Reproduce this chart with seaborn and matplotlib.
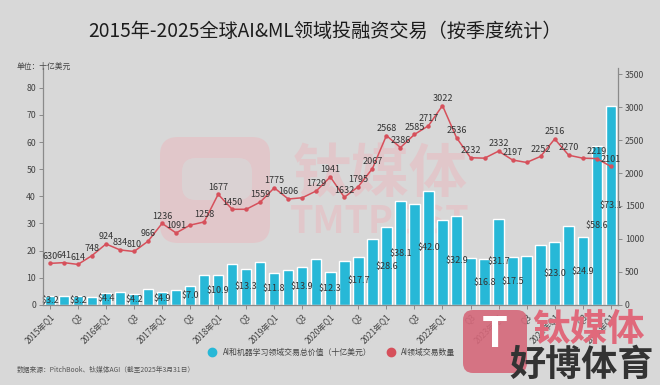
import numpy as np
import pandas as pd
import matplotlib
matplotlib.use("Agg")
import matplotlib.pyplot as plt
import seaborn as sns
from matplotlib.lines import Line2D
from matplotlib.patches import FancyBboxPatch

# ---------------- data ----------------
quarters = ["2015Q1", "2015Q2", "2015Q3", "2015Q4", "2016Q1", "2016Q2", "2016Q3", "2016Q4",
            "2017Q1", "2017Q2", "2017Q3", "2017Q4", "2018Q1", "2018Q2", "2018Q3", "2018Q4",
            "2019Q1", "2019Q2", "2019Q3", "2019Q4", "2020Q1", "2020Q2", "2020Q3", "2020Q4",
            "2021Q1", "2021Q2", "2021Q3", "2021Q4", "2022Q1", "2022Q2", "2022Q3", "2022Q4",
            "2023Q1", "2023Q2", "2023Q3", "2023Q4", "2024Q1", "2024Q2", "2024Q3", "2024Q4",
            "2025Q1"]
deal_value = [3.2, 3.3, 3.2, 3.1, 4.4, 4.8, 4.2, 5.8, 4.9, 5.5,
              7.0, 11.0, 10.9, 15.0, 13.3, 15.7, 11.8, 12.8, 13.9, 17.0,
              12.3, 16.0, 17.7, 24.3, 28.6, 38.1, 37.1, 42.0, 31.2, 32.9,
              17.2, 16.8, 31.7, 17.5, 17.9, 22.1, 23.0, 29.0, 24.9, 58.6,
              73.1]
deal_count = [630, 641, 614, 748, 924, 834, 810, 966, 1236, 1091,
              1210, 1258, 1677, 1450, 1450, 1559, 1775, 1606, 1625, 1729,
              1941, 1632, 1795, 2067, 2568, 2386, 2585, 2717, 3022, 2536,
              2232, 2225, 2332, 2197, 2160, 2252, 2516, 2270, 2225, 2219,
              2101]
value_label_idx = [0, 2, 4, 6, 8, 10, 12, 14, 16, 18, 20, 22, 24, 25, 27, 29,
                   31, 32, 33, 36, 38, 39, 40]
count_unlabeled_idx = [10, 14, 18, 31, 34, 38]
tick_labels = ["2015年Q1", "Q3", "2016年Q1", "Q3", "2017年Q1", "Q3", "2018年Q1", "Q3",
               "2019年Q1", "Q3", "2020年Q1", "Q3", "2021年Q1", "Q3", "2022年Q1", "Q3",
               "2023年Q1", "Q3", "2024年Q1", "Q3", "2025年Q1"]
left_ticks = [0, 10, 20, 30, 40, 50, 60, 70, 80]
right_ticks = [0, 500, 1000, 1500, 2000, 2500, 3000, 3500]

title = "2015年-2025全球AI&ML领域投融资交易（按季度统计）"
unit_text = "单位：十亿美元"
source_text = "数据来源：PitchBook、钛媒体AGI（截至2025年3月31日）"
legend_labels = ["AI和机器学习领域交易总价值（十亿美元）", "AI领域交易数量"]

# ---------------- style ----------------
BG = "#d8d8d8"
BAR = "#27b8d7"
LINE = "#d6505b"
SPINE = "#8a8a8a"
TXT = "#333333"

sns.set_theme(style="ticks")
plt.rcParams["font.family"] = ["Noto Sans CJK SC", "DejaVu Sans"]
plt.rcParams["axes.unicode_minus"] = False

fig = plt.figure(figsize=(6.6, 3.85), dpi=100)
fig.patch.set_facecolor(BG)
ax = fig.add_axes([0.065, 0.208, 0.871, 0.615])
ax.set_facecolor(BG)
ax.patch.set_alpha(0)
ax.set_zorder(2)

df = pd.DataFrame({"quarter": quarters, "value": deal_value, "count": deal_count})
df["pos"] = np.arange(len(df))

# faint watermark behind the axes
wm_color = "#e8bcc1"
logo = FancyBboxPatch((160, 142), 110, 106, boxstyle="round,pad=0,rounding_size=18",
                      transform=None, facecolor=wm_color, edgecolor="none", alpha=0.6, zorder=0)
fig.patches.append(logo)
inner = FancyBboxPatch((182, 185), 70, 42, boxstyle="round,pad=0,rounding_size=14",
                       transform=None, facecolor=BG, edgecolor="none", alpha=0.7, zorder=0)
fig.patches.append(inner)
fig.text(380 / 660, 1 - 175 / 385, "钛媒体", fontsize=42, color=wm_color, alpha=0.6,
         ha="center", va="center", fontweight="bold", zorder=0)
fig.text(380 / 660, 1 - 222 / 385, "TMTPOST", fontsize=27, color=wm_color, alpha=0.6,
         ha="center", va="center", fontweight="bold", zorder=0)

sns.barplot(data=df, x="quarter", y="value", color=BAR, saturation=1, width=0.74,
            ax=ax, zorder=2)
ax.set_xlim(-0.5, len(df) - 0.5)
ax.set_ylim(0, 87.2)
ax.set_yticks(left_ticks)
ax.set_xticks(df["pos"][::2])
ax.set_xticklabels(tick_labels, rotation=45, ha="right", rotation_mode="anchor")
ax.set_xlabel("")
ax.set_ylabel("")

for i in value_label_idx:
    v = deal_value[i]
    ax.text(i, v / 2, f"${v:.1f}", ha="center", va="center", fontsize=6.5,
            color=TXT, zorder=5)

ax2 = ax.twinx()
ax2.set_zorder(3)
ax2.patch.set_alpha(0)
sns.lineplot(data=df, x="pos", y="count", color=LINE, marker="o", markersize=3.2,
             markeredgewidth=0, linewidth=1.1, ax=ax2, zorder=4)
ax2.set_ylim(0, 3590)
ax2.set_yticks(right_ticks)
ax2.set_xlim(-0.5, len(df) - 0.5)
ax2.set_xlabel("")
ax2.set_ylabel("")
for i, c in enumerate(deal_count):
    if i in count_unlabeled_idx:
        continue
    ax2.annotate(str(c), (i, c), xytext=(0, 2), textcoords="offset points",
                 ha="center", va="bottom", fontsize=6.5, color=TXT, zorder=6)

for a in (ax, ax2):
    a.spines["top"].set_visible(False)
    for s in ("left", "right", "bottom"):
        a.spines[s].set_color(SPINE)
        a.spines[s].set_linewidth(0.8)
    a.tick_params(axis="both", colors=SPINE, labelcolor="#444444", length=3,
                  width=0.7, labelsize=6.3, pad=2)
ax.tick_params(axis="x", labelsize=6)

# texts
fig.text(0.492, 1 - 31.5 / 385, title, fontsize=13.8, color="#1c1c1c", ha="center", va="center")
fig.text(17 / 660, 1 - 67 / 385, unit_text, fontsize=5.6, color="#444444", ha="left", va="center")
fig.text(17 / 660, 1 - 370 / 385, source_text, fontsize=4.9, color="#555555", ha="left", va="center")

handles = [Line2D([], [], linestyle="none", marker="o", markersize=6, color=BAR),
           Line2D([], [], linestyle="none", marker="o", markersize=6, color=LINE)]
fig.legend(handles, legend_labels, loc="center", bbox_to_anchor=(0.5, 1 - 352 / 385),
           ncol=2, frameon=False, fontsize=5.7, handletextpad=0.3, columnspacing=1.5,
           labelcolor="#444444")

# bottom-right overlay logos
br = FancyBboxPatch((463, 12), 64, 63, boxstyle="round,pad=0,rounding_size=10",
                    transform=None, facecolor="#d5687a", edgecolor="none", alpha=0.9, zorder=8)
fig.patches.append(br)
fig.text(495 / 660, 1 - 335 / 385, "T", fontsize=30, color="white", fontweight="bold",
         ha="center", va="center", zorder=9)
fig.text(588 / 660, 1 - 329 / 385, "钛媒体", fontsize=27, color="#e0697b", fontweight="bold",
         ha="center", va="center", zorder=9)
fig.text(582 / 660, 1 - 365 / 385, "好博体育", fontsize=26, color="#333333", fontweight="bold",
         ha="center", va="center", zorder=10)

fig.savefig("out.png", dpi=100, facecolor=BG)
